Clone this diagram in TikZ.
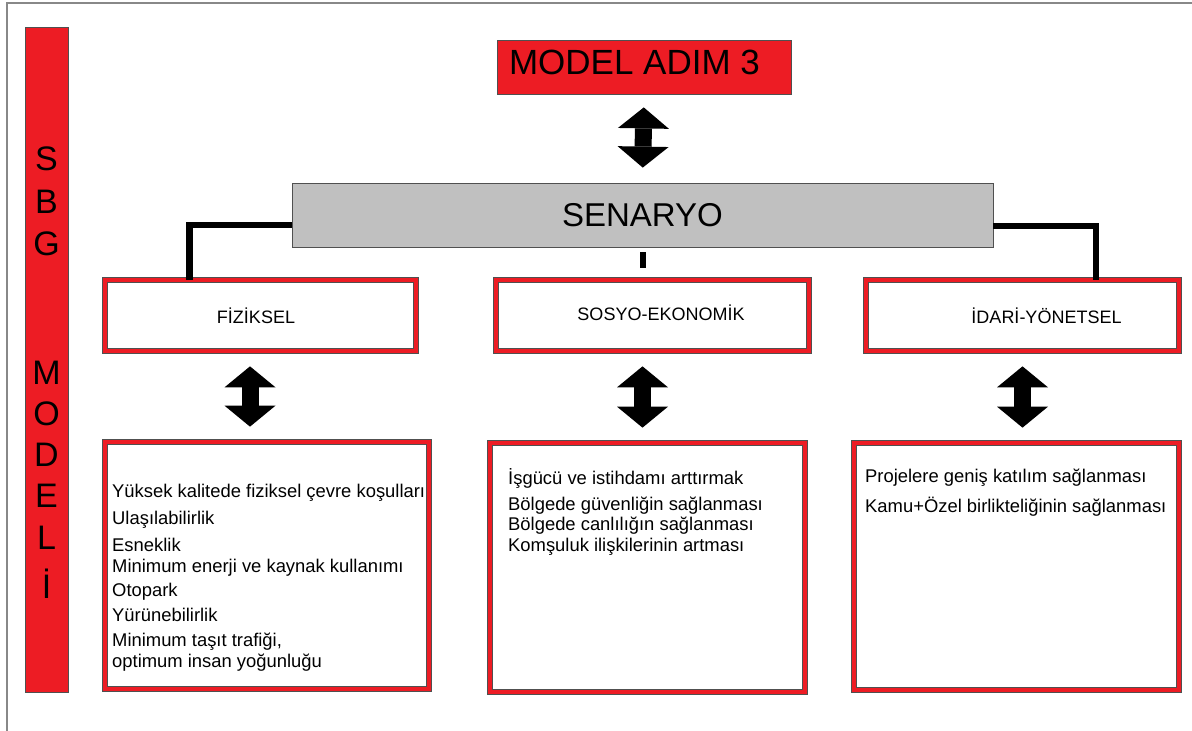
\documentclass[tikz,border=0pt]{standalone}
\usepackage{fontspec}
\setmainfont{Liberation Sans}
\usetikzlibrary{arrows.meta}

\definecolor{sbgred}{HTML}{ED1C24}
\definecolor{boxgray}{HTML}{C0C0C0}
\definecolor{edgegray}{HTML}{505050}
\definecolor{framegray}{HTML}{888888}

\begin{document}
\begin{tikzpicture}[x=1pt, y=-1pt,
    bar/.style = {draw=edgegray, line width=0.8pt, fill=sbgred, inner sep=0pt},
    letter/.style = {anchor=base, inner sep=0pt, font=\fontsize{34}{40}\selectfont},
    title/.style = {bar, minimum width=294pt, minimum height=54pt},
    scen/.style = {draw=edgegray, line width=0.8pt, fill=boxgray, minimum width=701pt, minimum height=64pt, font=\fontsize{33}{40}\selectfont},
    head/.style = {draw=edgegray, line width=0.7pt, double=sbgred, double distance=4.6pt, minimum height=71pt},
    headtxt/.style = {font=\fontsize{18}{21}\selectfont},
    listtxt/.style = {anchor=north west, align=left, inner sep=0pt, font=\fontsize{18.4}{21}\selectfont},
    link/.style = {line width=6.5pt},
    dblarrow/.style = {line width=17pt, {Triangle[width=51pt,length=21pt,line width=0pt]}-{Triangle[width=51pt,length=21pt,line width=0pt]}, shorten <=15pt, shorten >=15pt}
]
\useasboundingbox (0,0) rectangle (1192,731);
\clip (0,0) rectangle (1192,731);
\draw[framegray, line width=1.3pt] (7,3) rectangle (1220,760);

% left bar
\node[bar, minimum width=43pt, minimum height=665pt] (sbg) at (46.5,359.5) {};
\foreach \ch/\yy in {S/170, B/213, G/255, M/384, O/425, D/466, E/507, L/549, İ/598}
    \node[letter] (sbg\yy) at (46.5,\yy) {\ch};

% top
\node[title, label={[font=\fontsize{35}{42}\selectfont, xshift=-9.5pt, yshift=4.5pt]center:MODEL ADIM 3}] (adim) at (644,67) {};
\node[scen] (scen) at (642.5,215) {SENARYO};

% headers
\node[head, minimum width=311pt, label={[headtxt, xshift=-4.5pt]center:FİZİKSEL}] (fiz) at (260.5,315.5) {};
\node[head, minimum width=313pt, label={[headtxt, xshift=8.5pt, yshift=3pt]center:SOSYO-EKONOMİK}] (sosyo) at (652.5,315.5) {};
\node[head, minimum width=313pt, label={[headtxt, xshift=24pt]center:İDARİ-YÖNETSEL}] (idari) at (1022.5,315.5) {};

% lists
\node[head, minimum width=324pt, minimum height=247pt] (fizlist) at (267,565.5) {};
\node[head, minimum width=315pt, minimum height=249pt] (sosyolist) at (647.5,567.5) {};
\node[head, minimum width=325pt, minimum height=247pt] (idarilist) at (1016.5,566.5) {};

\node[listtxt] (fiztxt) at (112,484) {Yüksek kalitede fiziksel çevre koşulları\\[6pt]
    Ulaşılabilirlik\\[6pt]
    Esneklik\\
    Minimum enerji ve kaynak kullanımı\\[3pt]
    Otopark\\[4pt]
    Yürünebilirlik\\[4pt]
    Minimum taşıt trafiği,\\
    optimum insan yoğunluğu};
\node[listtxt] (sosyotxt) at (508,468) {İşgücü ve istihdamı arttırmak\\[5pt]
    Bölgede güvenliğin sağlanması\\[-1pt]
    Bölgede canlılığın sağlanması\\
    Komşuluk ilişkilerinin artması};
\node[listtxt] (idaritxt) at (865,469) {Projelere geniş katılım sağlanması\\[9pt]
    Kamu+Özel birlikteliğinin sağlanması};

% connectors
\draw[link] ([yshift=-10pt]scen.west) -| ([xshift=-71pt]fiz.north);
\draw[link] ([yshift=-11pt]scen.east) -| ([xshift=73.5pt]idari.north);
\draw[link, line width=6pt, shorten <=5pt, shorten >=12pt] (scen.south) -- (scen.south |- sosyo.north);

\draw[dblarrow, shorten <=13pt] (adim.south) -- (scen.north);
\draw[dblarrow] ([xshift=-10.5pt]fiz.south) -- ([xshift=-10.5pt]fiz.south |- fizlist.north);
\draw[dblarrow] (sosyo.south -| scen.south) -- (sosyolist.north -| scen.south);
\draw[dblarrow] (idari.south) -- (idari.south |- idarilist.north);
\end{tikzpicture}
\end{document}
